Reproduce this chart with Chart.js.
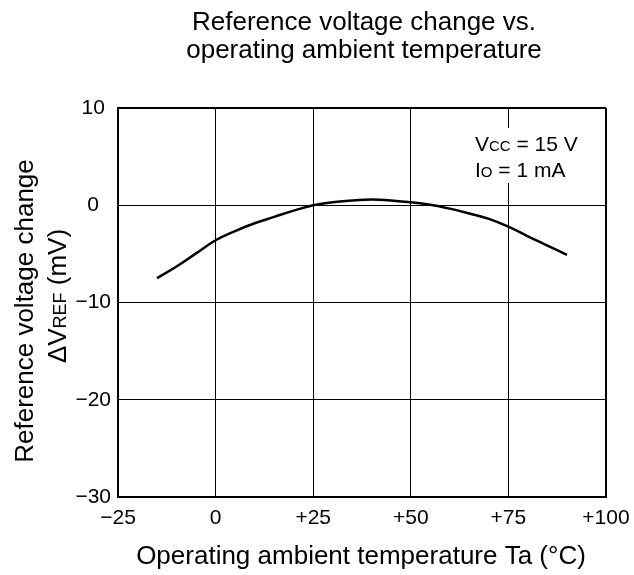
<!DOCTYPE html>
<html>
<head>
<meta charset="utf-8">
<script src="https://cdn.jsdelivr.net/npm/chart.js@4.4.1/dist/chart.umd.min.js"></script>
<style>
  body { margin: 0; background: #fff; }
</style>
</head>
<body>
<canvas id="vrefChart" width="634" height="575"></canvas>
<script>
// Data
const temps = [-15, -10, -5, 0, 5, 10, 15, 20, 25, 30, 35, 40, 45, 50, 55, 60, 65, 70, 75, 80, 85, 90];
const deltaVref = [-7.5, -6.3, -4.95, -3.6, -2.65, -1.85, -1.2, -0.55, 0, 0.3, 0.5, 0.6, 0.5, 0.3, 0.05, -0.35, -0.85, -1.4, -2.2, -3.2, -4.15, -5.1];

const xTickValues = [-25, 0, 25, 50, 75, 100];
const xTickLabels = ["\u221225", "0", "+25", "+50", "+75", "+100"];
const yTickValues = [-30, -20, -10, 0, 10];
const yTickLabels = ["\u221230", "\u221220", "\u221210", "0", "10"];

const FONT = "'Liberation Sans', Arial, Helvetica, sans-serif";

// draw text made of runs with different sizes on one baseline
function drawRuns(ctx, runs, x, y, align) {
    let total = 0;
    runs.forEach(r => {
        ctx.font = r.size + "px " + FONT;
        r.w = ctx.measureText(r.text).width;
        total += r.w;
    });
    let cx = align === "center" ? x - total / 2 : x;
    ctx.textAlign = "left";
    runs.forEach(r => {
        ctx.font = r.size + "px " + FONT;
        ctx.fillText(r.text, cx, y);
        cx += r.w;
    });
}

const textPlugin = {
    id: "textPlugin",
    afterDraw(chart) {
        const ctx = chart.ctx;
        ctx.save();
        ctx.textBaseline = "alphabetic";

        // condition box (covers the grid line behind it)
        ctx.fillStyle = "#fff";
        ctx.fillRect(470, 128, 120, 55);
        ctx.fillStyle = "#000";
        drawRuns(ctx, [{ text: "V", size: 21 }, { text: "CC", size: 15 }, { text: " = 15 V", size: 21 }], 475, 151, "left");
        drawRuns(ctx, [{ text: "I", size: 21 }, { text: "O", size: 15 }, { text: " = 1 mA", size: 21 }], 475, 177, "left");

        // title
        drawRuns(ctx, [{ text: "Reference voltage change vs.", size: 26 }], 364, 30, "center");
        drawRuns(ctx, [{ text: "operating ambient temperature", size: 26 }], 364, 58, "center");

        // x axis title
        drawRuns(ctx, [{ text: "Operating ambient temperature Ta (\u00b0C)", size: 26 }], 361, 564, "center");

        // y axis title
        ctx.save();
        ctx.translate(33, 311);
        ctx.rotate(-Math.PI / 2);
        drawRuns(ctx, [{ text: "Reference voltage change", size: 26 }], 0, 0, "center");
        ctx.restore();
        ctx.translate(66, 296);
        ctx.rotate(-Math.PI / 2);
        drawRuns(ctx, [{ text: "\u0394V", size: 26 }, { text: "REF", size: 18 }, { text: " (mV)", size: 26 }], 0, 0, "center");
        ctx.restore();
    }
};

const edgeWidth = (ends) => (c) => (c.tick && ends.includes(c.tick.value) ? 2 : 1);

new Chart(document.getElementById("vrefChart"), {
    type: "line",
    data: {
        datasets: [{
            data: temps.map((t, i) => ({ x: t, y: deltaVref[i] })),
            borderColor: "#000",
            borderWidth: 2.5,
            pointRadius: 0,
            fill: false,
            tension: 0.4
        }]
    },
    options: {
        responsive: false,
        animation: false,
        layout: { padding: { left: 0, right: 28, top: 108, bottom: 0 } },
        plugins: {
            legend: { display: false },
            tooltip: { enabled: false },
            title: { display: false }
        },
        scales: {
            x: {
                type: "linear",
                min: -25,
                max: 100,
                afterBuildTicks: (s) => { s.ticks = xTickValues.map(v => ({ value: v })); },
                afterFit: (s) => { s.height = 78; s.paddingLeft = 0; s.paddingRight = 0; },
                ticks: {
                    color: "#000",
                    font: { family: FONT, size: 21 },
                    padding: 9,
                    maxRotation: 0,
                    callback: (v) => xTickLabels[xTickValues.indexOf(v)]
                },
                grid: { color: "#000", lineWidth: edgeWidth([-25, 100]), drawTicks: false },
                border: { display: true, color: "#000", width: 2 }
            },
            y: {
                min: -30,
                max: 10,
                afterBuildTicks: (s) => { s.ticks = yTickValues.map(v => ({ value: v })); },
                afterFit: (s) => { s.width = 118; s.paddingTop = 0; s.paddingBottom = 0; },
                ticks: {
                    color: "#000",
                    font: { family: FONT, size: 21 },
                    padding: 7,
                    crossAlign: "center",
                    callback: (v) => yTickLabels[yTickValues.indexOf(v)]
                },
                grid: { color: "#000", lineWidth: edgeWidth([-30, 10]), drawTicks: false },
                border: { display: true, color: "#000", width: 2 }
            }
        }
    },
    plugins: [textPlugin]
});
</script>
</body>
</html>
